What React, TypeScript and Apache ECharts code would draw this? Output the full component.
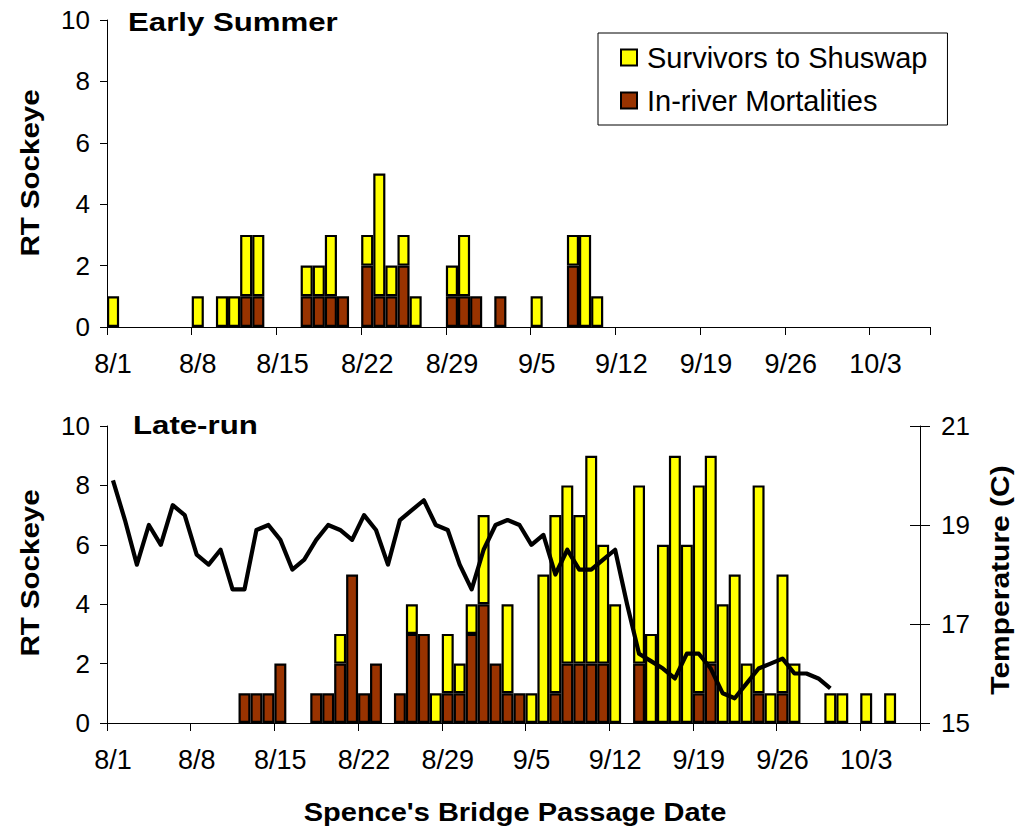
import React, { useEffect, useRef } from "react";
import * as echarts from "echarts";

const FONT = "'Liberation Sans', Arial, Helvetica, sans-serif";

const dates = [
  "8/1","8/2","8/3","8/4","8/5","8/6","8/7","8/8","8/9","8/10",
  "8/11","8/12","8/13","8/14","8/15","8/16","8/17","8/18","8/19","8/20",
  "8/21","8/22","8/23","8/24","8/25","8/26","8/27","8/28","8/29","8/30",
  "8/31","9/1","9/2","9/3","9/4","9/5","9/6","9/7","9/8","9/9",
  "9/10","9/11","9/12","9/13","9/14","9/15","9/16","9/17","9/18","9/19",
  "9/20","9/21","9/22","9/23","9/24","9/25","9/26","9/27","9/28","9/29",
  "9/30","10/1","10/2","10/3","10/4","10/5","10/6","10/7",
];

// Early Summer run
const esSurvivors = [
  1,0,0,0,0,0,0,1,0,1,
  1,2,2,0,0,0,1,1,2,0,
  0,1,4,1,1,1,0,0,1,2,
  0,0,0,0,0,1,0,0,1,3,
  1,0,0,0,0,0,0,0,0,0,
  0,0,0,0,0,0,0,0,0,0,
  0,0,0,0,0,0,0,0,
];
const esMortalities = [
  0,0,0,0,0,0,0,0,0,0,
  0,1,1,0,0,0,1,1,1,1,
  0,2,1,1,2,0,0,0,1,1,
  1,0,1,0,0,0,0,0,2,0,
  0,0,0,0,0,0,0,0,0,0,
  0,0,0,0,0,0,0,0,0,0,
  0,0,0,0,0,0,0,0,
];

// Late run
const lrSurvivors = [
  0,0,0,0,0,0,0,0,0,0,
  0,0,0,0,0,0,0,0,0,1,
  0,0,0,0,0,1,0,1,2,1,
  1,3,0,3,0,1,5,6,6,5,
  7,4,4,0,6,3,6,9,6,7,
  7,4,5,2,7,1,4,2,0,0,
  1,1,0,1,0,1,0,0,
];
const lrMortalities = [
  0,0,0,0,0,0,0,0,0,0,
  0,1,1,1,2,0,0,1,1,2,
  5,1,2,0,1,3,3,0,1,1,
  3,4,2,1,1,0,0,1,2,2,
  2,2,0,0,2,0,0,0,0,1,
  2,0,0,0,1,0,1,0,0,0,
  0,0,0,0,0,0,0,0,
];

// Temperature (C), days 8/1 .. 9/30
const temperature = [
  19.9,19.1,18.2,19.0,18.6,19.4,19.2,18.4,18.2,18.5,
  17.7,17.7,18.9,19.0,18.7,18.1,18.3,18.7,19.0,18.9,
  18.7,19.2,18.9,18.2,19.1,19.3,19.5,19.0,18.9,18.2,
  17.7,18.5,19.0,19.1,19.0,18.6,18.8,18.0,18.5,18.1,
  18.1,18.3,18.5,17.4,16.4,16.25,16.1,15.9,16.4,16.4,
  16.1,15.6,15.5,15.8,16.1,16.2,16.3,16.0,16.0,15.9,
  15.7,
];

const countTicks = [0, 2, 4, 6, 8, 10];
const tempTicks = [15, 17, 19, 21];

const YELLOW = "#FFFF00";
const BROWN = "#993300";
const SURV = "Survivors to Shuswap";
const MORT = "In-river Mortalities";

const nz = (arr: number[]) => arr.map((v) => (v === 0 ? null : v));

function xAxisCfg(gridIndex: number) {
  return {
    gridIndex,
    type: "category",
    data: dates,
    boundaryGap: true,
    axisLine: { show: true, lineStyle: { color: "#000", width: 1 } },
    axisTick: { show: true, interval: 6, length: 8, lineStyle: { color: "#000", width: 1 } },
    axisLabel: { interval: 6, fontSize: 27, color: "#000", fontFamily: FONT, margin: 23 },
    splitLine: { show: false },
  };
}

function countAxis(gridIndex: number) {
  return {
    gridIndex,
    type: "value",
    min: countTicks[0],
    max: countTicks[countTicks.length - 1],
    interval: countTicks[1] - countTicks[0],
    axisLine: { show: true, lineStyle: { color: "#000", width: 1 } },
    axisTick: { show: true, length: 7, lineStyle: { color: "#000", width: 1 } },
    axisLabel: { fontSize: 26, color: "#000", fontFamily: FONT, margin: 17 },
    splitLine: { show: false },
  };
}

const barStyle = (color: string) => ({
  color,
  borderColor: "#000",
  borderWidth: 2.2,
});

export default function App() {
  const ref = useRef<HTMLDivElement>(null);
  useEffect(() => {
    if (!ref.current) return;
    const chart = echarts.init(ref.current, undefined, { renderer: "svg" });
    const option: any = {
      animation: false,
      textStyle: { fontFamily: FONT, color: "#000" },
      legend: {
        data: [SURV, MORT],
        orient: "vertical",
        left: 598,
        top: 33,
        padding: [10, 20, 10, 22],
        itemWidth: 16,
        itemHeight: 16,
        itemGap: 14,
        backgroundColor: "#fff",
        borderColor: "#000",
        borderWidth: 1,
        borderRadius: 0,
        selectedMode: false,
        icon: "rect",
        textStyle: { fontSize: 29, color: "#000", fontFamily: FONT, padding: [0, 0, 0, 5] },
        itemStyle: { borderColor: "#000", borderWidth: 2 },
      },
      grid: [
        { left: 107, width: 823, top: 20, height: 307 },
        { left: 107, width: 813, top: 426, height: 297 },
      ],
      xAxis: [xAxisCfg(0), xAxisCfg(1)],
      yAxis: [
        countAxis(0),
        countAxis(1),
        {
          gridIndex: 1,
          type: "value",
          position: "right",
          min: tempTicks[0],
          max: tempTicks[tempTicks.length - 1],
          interval: tempTicks[1] - tempTicks[0],
          axisLine: { show: true, lineStyle: { color: "#000", width: 1 } },
          axisTick: { show: true, length: 10, lineStyle: { color: "#000", width: 1 } },
          axisLabel: { fontSize: 26, color: "#000", fontFamily: FONT, margin: 21 },
          splitLine: { show: false },
        },
        {
          gridIndex: 1,
          type: "value",
          position: "right",
          min: tempTicks[0],
          max: tempTicks[tempTicks.length - 1],
          interval: tempTicks[1] - tempTicks[0],
          axisLine: { show: false },
          axisTick: { show: true, inside: true, length: 10, lineStyle: { color: "#000", width: 1 } },
          axisLabel: { show: false },
          splitLine: { show: false },
        },
      ],
      series: [
        {
          name: MORT, type: "bar", xAxisIndex: 0, yAxisIndex: 0, stack: "es",
          data: nz(esMortalities), barCategoryGap: "0%", itemStyle: barStyle(BROWN),
        },
        {
          name: SURV, type: "bar", xAxisIndex: 0, yAxisIndex: 0, stack: "es",
          data: nz(esSurvivors), barCategoryGap: "0%", itemStyle: barStyle(YELLOW),
        },
        {
          name: MORT, type: "bar", xAxisIndex: 1, yAxisIndex: 1, stack: "lr",
          data: nz(lrMortalities), barCategoryGap: "0%", itemStyle: barStyle(BROWN),
        },
        {
          name: SURV, type: "bar", xAxisIndex: 1, yAxisIndex: 1, stack: "lr",
          data: nz(lrSurvivors), barCategoryGap: "0%", itemStyle: barStyle(YELLOW),
        },
        {
          name: "Temperature", type: "line", xAxisIndex: 1, yAxisIndex: 2,
          data: temperature, symbol: "none", z: 10,
          lineStyle: { color: "#000", width: 4.2, join: "round" },
        },
      ],
      graphic: [
        {
          type: "text", x: 128, y: 22, scaleX: 1.2,
          style: { text: "Early Summer", font: `bold 26px ${FONT}`, fill: "#000", verticalAlign: "middle" },
        },
        {
          type: "text", x: 133, y: 425, scaleX: 1.2,
          style: { text: "Late-run", font: `bold 26px ${FONT}`, fill: "#000", verticalAlign: "middle" },
        },
        {
          type: "text", x: 30, y: 173, rotation: Math.PI / 2, scaleX: 1.18,
          style: { text: "RT Sockeye", font: `bold 25px ${FONT}`, fill: "#000", align: "center", verticalAlign: "middle" },
        },
        {
          type: "text", x: 30, y: 573, rotation: Math.PI / 2, scaleX: 1.18,
          style: { text: "RT Sockeye", font: `bold 25px ${FONT}`, fill: "#000", align: "center", verticalAlign: "middle" },
        },
        {
          type: "text", x: 1000, y: 580, rotation: Math.PI / 2, scaleX: 1.2,
          style: { text: "Temperature (C)", font: `bold 25px ${FONT}`, fill: "#000", align: "center", verticalAlign: "middle" },
        },
        {
          type: "text", x: 515, y: 812, scaleX: 1.16,
          style: { text: "Spence's Bridge Passage Date", font: `bold 25px ${FONT}`, fill: "#000", align: "center", verticalAlign: "middle" },
        },
      ],
    };
    chart.setOption(option);
    return () => chart.dispose();
  }, []);
  return (
    <div
      ref={ref}
      style={{ position: "absolute", left: 0, top: 0, width: 1021, height: 833, background: "#fff" }}
    />
  );
}
